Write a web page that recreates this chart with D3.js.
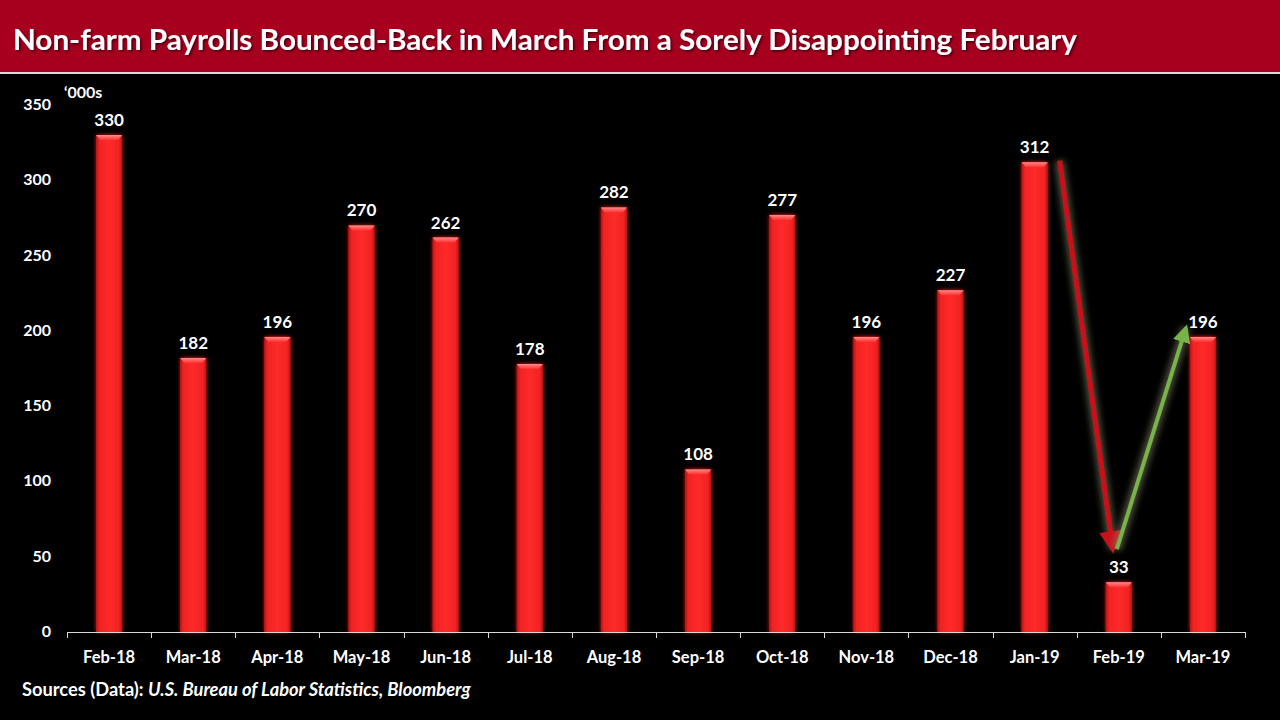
<!DOCTYPE html>
<html><head><meta charset="utf-8">
<script src="https://cdn.jsdelivr.net/npm/d3@7"></script>
<style>
html,body{margin:0;padding:0;background:#000;}
svg{display:block;}
text{font-family:Lato,"Open Sans",sans-serif;font-weight:bold;}
</style></head>
<body>
<svg id="c" width="1280" height="720"></svg>
<script>
const categories = ["Feb-18","Mar-18","Apr-18","May-18","Jun-18","Jul-18","Aug-18","Sep-18","Oct-18","Nov-18","Dec-18","Jan-19","Feb-19","Mar-19"];
const values = [330,182,196,270,262,178,282,108,277,196,227,312,33,196];
const yTicks = [0,50,100,150,200,250,300,350];
const titleText = "Non-farm Payrolls Bounced-Back in March From a Sorely Disappointing February";
const unitLabel = "\u2018000s";
const sourceBold = "Sources (Data): ";
const sourceItalic = "U.S. Bureau of Labor Statistics, Bloomberg";
// arrows: [fromCategory, fromValue, toCategory, toValue]
const arrowDown = ["Jan-19", 313, "Feb-19", 55];
const arrowUp = ["Feb-19", 55, "Mar-19", 202];

const svg = d3.select("#c");
const W = 1280, H = 720;
const defs = svg.append("defs");

// title bar
svg.append("rect").attr("x",0).attr("y",0).attr("width",W).attr("height",72).attr("fill","#A6001E");
svg.append("rect").attr("x",0).attr("y",72).attr("width",W).attr("height",2).attr("fill","#d9d9d9");
const tshadow = defs.append("filter").attr("id","tsh").attr("x","-5%").attr("y","-30%").attr("width","110%").attr("height","160%");
tshadow.append("feDropShadow").attr("dx",1.5).attr("dy",1.5).attr("stdDeviation",1).attr("flood-color","#000").attr("flood-opacity",0.6);
svg.append("text").attr("x",13).attr("y",50).attr("fill","#fff").attr("font-size",29)
  .attr("textLength",1064).attr("lengthAdjust","spacingAndGlyphs")
  .attr("filter","url(#tsh)").text(titleText);

const x = d3.scaleBand().domain(categories).range([67,1245]).paddingInner(0).paddingOuter(0);
const y = d3.scaleLinear().domain([0,350]).range([632,105]);
const bw = 26;

// bar gradient
const g = defs.append("linearGradient").attr("id","barg").attr("x1","0").attr("x2","1").attr("y1","0").attr("y2","0");
g.append("stop").attr("offset","0%").attr("stop-color","#b51515");
g.append("stop").attr("offset","12%").attr("stop-color","#f02222");
g.append("stop").attr("offset","50%").attr("stop-color","#ff2a2a");
g.append("stop").attr("offset","88%").attr("stop-color","#f02222");
g.append("stop").attr("offset","100%").attr("stop-color","#b51515");
const tg = defs.append("linearGradient").attr("id","topg").attr("x1","0").attr("x2","0").attr("y1","0").attr("y2","1");
tg.append("stop").attr("offset","0%").attr("stop-color","#ff8a8a");
tg.append("stop").attr("offset","100%").attr("stop-color","#ff3030");
const glow = defs.append("filter").attr("id","glow").attr("x","-50%").attr("y","-10%").attr("width","200%").attr("height","120%");
glow.append("feGaussianBlur").attr("in","SourceGraphic").attr("stdDeviation",2).attr("result","b");
const fm = glow.append("feMerge"); fm.append("feMergeNode").attr("in","b"); fm.append("feMergeNode").attr("in","SourceGraphic");

const bars = svg.append("g");
categories.forEach((c,i)=>{
  const cx = x(c)+x.bandwidth()/2;
  const top = y(values[i]);
  bars.append("rect").attr("x",cx-bw/2).attr("y",top).attr("width",bw).attr("height",y(0)-top)
    .attr("fill","url(#barg)").attr("filter","url(#glow)").attr("opacity",0.95);
  bars.append("rect").attr("x",cx-bw/2).attr("y",top).attr("width",bw).attr("height",y(0)-top).attr("fill","url(#barg)");
  bars.append("path").attr("d",`M${cx-bw/2},${top}L${cx+bw/2},${top}L${cx+bw/2-4},${top+5}L${cx-bw/2+4},${top+5}Z`).attr("fill","url(#topg)");
  svg.append("text").attr("x",cx).attr("y",top-9).attr("text-anchor","middle").attr("fill","#fff").attr("font-size",17).text(values[i]);
});

// x axis
const xa = svg.append("g").attr("stroke","#d9d9d9").attr("stroke-width",1);
xa.append("line").attr("x1",67).attr("x2",1245).attr("y1",632.5).attr("y2",632.5);
const bounds = categories.map(c=>x(c)).concat([x.range()[1]]);
bounds.forEach(b=>xa.append("line").attr("x1",Math.round(b)+0.5).attr("x2",Math.round(b)+0.5).attr("y1",632).attr("y2",638));
categories.forEach(c=>{
  svg.append("text").attr("x",x(c)+x.bandwidth()/2).attr("y",663).attr("text-anchor","middle").attr("fill","#fff").attr("font-size",16.5).text(c);
});
// y ticks
yTicks.forEach(t=>{
  svg.append("text").attr("x",51).attr("y",y(t)+5).attr("text-anchor","end").attr("fill","#fff").attr("font-size",16).text(t);
});
svg.append("text").attr("x",64).attr("y",98).attr("fill","#fff").attr("font-size",16).text(unitLabel);

// arrows
function arrow(spec, color, id, offA, offB, sw){
  const x1 = x(spec[0])+x.bandwidth()/2+offA, y1 = y(spec[1]);
  const x2 = x(spec[2])+x.bandwidth()/2+offB, y2 = y(spec[3]);
  const m = defs.append("marker").attr("id",id).attr("viewBox","0 0 10 10").attr("refX",8).attr("refY",5)
    .attr("markerWidth",4.5).attr("markerHeight",4.5).attr("orient","auto-start-reverse").attr("markerUnits","strokeWidth");
  m.append("path").attr("d","M0,0L10,5L0,10Z").attr("fill",color);
  const gl = defs.append("filter").attr("id",id+"f").attr("x","-50%").attr("y","-50%").attr("width","200%").attr("height","200%");
  gl.append("feGaussianBlur").attr("stdDeviation",3);
  svg.append("line").attr("x1",x1).attr("y1",y1).attr("x2",x2).attr("y2",y2).attr("stroke","#8a8a6a").attr("stroke-width",10).attr("opacity",0.55).attr("filter",`url(#${id}f)`);
  svg.append("line").attr("x1",x1).attr("y1",y1).attr("x2",x2).attr("y2",y2).attr("stroke",color).attr("stroke-width",sw).attr("marker-end",`url(#${id})`);
}
arrow(arrowDown,"#C8101A","ad",25,-6,5);
arrow(arrowUp,"#78B34A","au",-2,-17,4);

// source
const st = svg.append("text").attr("x",22).attr("y",696).attr("fill","#fff").attr("font-size",18.3);
st.append("tspan").text(sourceBold);
st.append("tspan").attr("font-style","italic").text(sourceItalic);
</script>
</body></html>
